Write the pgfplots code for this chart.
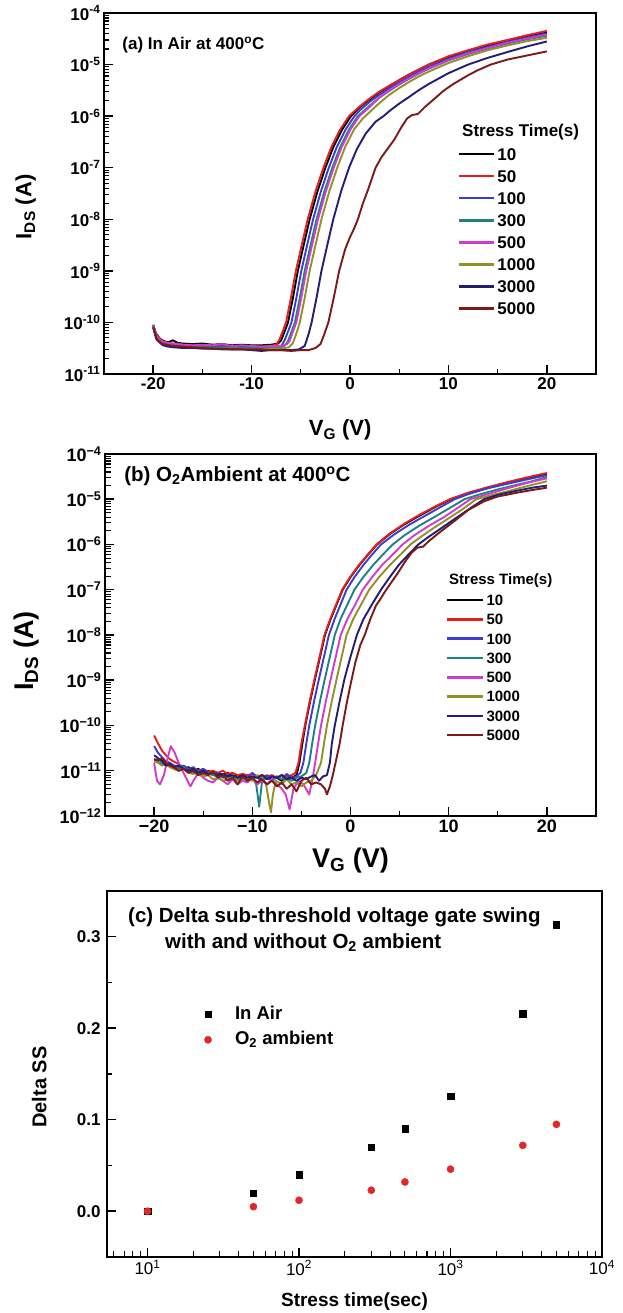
\documentclass[border=0pt]{standalone}
\usepackage{fontspec}
\setmainfont{Liberation Sans}
\usepackage{pgfplots}
\pgfplotsset{compat=1.18}
\definecolor{cred}{RGB}{230,30,30}
\definecolor{cblue}{RGB}{60,60,205}
\definecolor{cteal}{RGB}{30,130,130}
\definecolor{cmag}{RGB}{210,60,205}
\definecolor{coli}{RGB}{145,145,40}
\definecolor{cnavy}{RGB}{35,30,115}
\definecolor{cbrn}{RGB}{125,25,25}
\definecolor{mred}{RGB}{225,40,40}
\pgfplotsset{
  myaxis/.style={
    scale only axis, anchor=south west,
    tick align=inside, tick pos=left,
    axis line style={line width=2.2pt},
    major tick length=9pt, minor tick length=5.5pt,
    major tick style={line width=1.5pt, black},
    minor tick style={line width=1.1pt, black},
    tick label style={font=\bfseries\fontsize{17}{17}\selectfont},
  },
  curve/.style={line width=1.9pt, line join=round, mark=none},
}
\begin{document}
\begin{tikzpicture}
\path[use as bounding box] (0pt,0pt) rectangle (623pt,1313pt);
% ---------------- (a) ----------------
\begin{axis}[myaxis, at={(104pt,939pt)}, width=492pt, height=361pt,
  xmin=-25, xmax=25, ymode=log, log basis y=10, ymin=1e-11, ymax=1e-4,
  xtick={-20,-10,0,10,20}, minor xtick={-15,-5,5,15}, xticklabels={-20,-10,0,10,20},
  ytick={1e-11,1e-10,1e-9,1e-8,1e-7,1e-6,1e-5,1e-4},
  minor ytick={2e-11,3e-11,4e-11,5e-11,6e-11,7e-11,8e-11,9e-11,2e-10,3e-10,4e-10,5e-10,6e-10,7e-10,8e-10,9e-10,2e-9,3e-9,4e-9,5e-9,6e-9,7e-9,8e-9,9e-9,2e-8,3e-8,4e-8,5e-8,6e-8,7e-8,8e-8,9e-8,2e-7,3e-7,4e-7,5e-7,6e-7,7e-7,8e-7,9e-7,2e-6,3e-6,4e-6,5e-6,6e-6,7e-6,8e-6,9e-6,2e-5,3e-5,4e-5,5e-5,6e-5,7e-5,8e-5,9e-5},
  yticklabel={10\textsuperscript{\pgfmathparse{int(round(\tick))}\pgfmathresult}},
  xlabel={V\textsubscript{G} (V)}, ylabel={I\textsubscript{DS} (A)},
  xlabel style={at={(axis description cs:0.48,-0.155)}, anchor=center, font=\bfseries\fontsize{22}{22}\selectfont},
  ylabel style={at={(axis description cs:-0.159,0.463)}, anchor=center, font=\bfseries\fontsize{22}{22}\selectfont},
  legend style={draw=none, fill=none, at={(axis description cs:0.7195,0.629)}, anchor=north west, inner sep=0pt, outer sep=0pt, row sep=7.9pt, column sep=1pt, nodes={inner sep=1pt, text height=12.2pt, text depth=0pt, font=\bfseries\fontsize{17}{17}\selectfont}},
  legend cell align=left,
  legend image code/.code={\draw[#1, line width=2.5pt] (0pt,0pt) -- (35pt,0pt);},
]
\addplot[curve, black] coordinates {(-20,9e-11)(-19.7,6e-11)(-19.3,4.8e-11)(-19,4.4e-11)(-18.5,4.1e-11)(-18,4.5e-11)(-17.5,4e-11)(-17,3.9e-11)(-16,3.8e-11)(-15,3.9e-11)(-14,3.7e-11)(-13,3.8e-11)(-12,3.6e-11)(-11,3.7e-11)(-10,3.6e-11)(-9,3.6e-11)(-8,3.7e-11)(-7.3,3.9e-11)(-7.0,4.5e-11)(-6.6,7e-11)(-6.3,1e-10)(-5.8,3e-10)(-5.3,1e-9)(-4.7,3.2e-9)(-4.1,1e-8)(-3.3,3.5e-8)(-2.5,1e-7)(-1.7,2.5e-7)(-0.8,5.5e-7)(0.1,1e-6)(1,1.5e-6)(2,2.1e-6)(3,2.9e-6)(4,3.8e-6)(5,5e-6)(6,6.4e-6)(7,8e-6)(8,1e-5)(10,1.4e-5)(12,1.85e-5)(14,2.35e-5)(16,2.9e-5)(18,3.6e-5)(20,4.3e-5)};
\addlegendentry{10}
\addplot[curve, cred] coordinates {(-20,8.5e-11)(-19.7,5.8e-11)(-19.3,4.6e-11)(-19,4.2e-11)(-18.5,4e-11)(-18,3.9e-11)(-17.5,3.8e-11)(-17,3.7e-11)(-16,3.6e-11)(-15,3.6e-11)(-14,3.5e-11)(-13,3.5e-11)(-12,3.4e-11)(-11,3.4e-11)(-10,3.4e-11)(-9,3.4e-11)(-8,3.5e-11)(-7.5,3.7e-11)(-7.2,4.5e-11)(-6.8,7e-11)(-6.5,1e-10)(-6.0,3e-10)(-5.5,1e-9)(-4.9,3.2e-9)(-4.3,1e-8)(-3.5,3.5e-8)(-2.7,1e-7)(-1.9,2.5e-7)(-1.0,5.5e-7)(-0.1,1e-6)(1,1.55e-6)(2,2.2e-6)(3,3e-6)(4,3.9e-6)(5,5e-6)(6,6.4e-6)(7,8e-6)(8,1e-5)(10,1.45e-5)(12,1.9e-5)(14,2.45e-5)(16,3e-5)(18,3.7e-5)(20,4.5e-5)};
\addlegendentry{50}
\addplot[curve, cblue] coordinates {(-20,8.8e-11)(-19.7,5.5e-11)(-19.3,4.5e-11)(-19,4e-11)(-18.5,3.8e-11)(-18,3.7e-11)(-17.5,3.9e-11)(-17,3.6e-11)(-16,3.5e-11)(-15,3.6e-11)(-14,3.4e-11)(-13,3.5e-11)(-12,3.3e-11)(-11,3.4e-11)(-10,3.3e-11)(-9,3.3e-11)(-8,3.2e-11)(-7,3.4e-11)(-6.65,4.5e-11)(-6.25,7e-11)(-5.95,1e-10)(-5.45,3e-10)(-4.95,1e-9)(-4.35,3.2e-9)(-3.75,1e-8)(-2.95,3.5e-8)(-2.15,1e-7)(-1.35,2.5e-7)(-0.45,5.5e-7)(0.45,1e-6)(1,1.3e-6)(2,1.9e-6)(3,2.6e-6)(4,3.5e-6)(5,4.5e-6)(6,5.8e-6)(7,7.3e-6)(8,9e-6)(10,1.3e-5)(12,1.75e-5)(14,2.2e-5)(16,2.75e-5)(18,3.35e-5)(20,4e-5)};
\addlegendentry{100}
\addplot[curve, cteal] coordinates {(-20,8.5e-11)(-19.7,5.3e-11)(-19.3,4.3e-11)(-19,3.9e-11)(-18.5,3.7e-11)(-18,3.6e-11)(-17,3.5e-11)(-16,3.4e-11)(-15,3.4e-11)(-14,3.3e-11)(-13,3.3e-11)(-12,3.3e-11)(-11,3.2e-11)(-10,3.2e-11)(-9,3.2e-11)(-8,3.2e-11)(-7,3.3e-11)(-6.6,3.6e-11)(-6.3,4.3e-11)(-5.9,7e-11)(-5.6,1e-10)(-5.1,3e-10)(-4.6,1e-9)(-4.0,3.2e-9)(-3.4,1e-8)(-2.6,3.5e-8)(-1.8,1e-7)(-1.0,2.5e-7)(-0.1,5.5e-7)(0.8,1e-6)(2,1.6e-6)(3,2.3e-6)(4,3.1e-6)(5,4.1e-6)(6,5.3e-6)(7,6.7e-6)(8,8.3e-6)(10,1.2e-5)(12,1.6e-5)(14,2.05e-5)(16,2.55e-5)(18,3.1e-5)(20,3.6e-5)};
\addlegendentry{300}
\addplot[curve, cmag] coordinates {(-20,8.7e-11)(-19.7,5.6e-11)(-19.3,4.6e-11)(-19,4.2e-11)(-18.5,4e-11)(-18,3.9e-11)(-17,3.7e-11)(-16,3.6e-11)(-15,3.7e-11)(-14,3.6e-11)(-13,3.8e-11)(-12,3.5e-11)(-11,3.6e-11)(-10,3.5e-11)(-9,3.4e-11)(-8,3.5e-11)(-7,3.5e-11)(-6.4,3.8e-11)(-6.15,4.3e-11)(-5.75,7e-11)(-5.45,1e-10)(-4.95,3e-10)(-4.45,1e-9)(-3.85,3.2e-9)(-3.25,1e-8)(-2.45,3.5e-8)(-1.65,1e-7)(-0.85,2.5e-7)(0.05,5.5e-7)(0.95,1e-6)(2,1.5e-6)(3,2.3e-6)(4,3.2e-6)(5,4.2e-6)(6,5.4e-6)(7,6.8e-6)(8,8.4e-6)(10,1.22e-5)(12,1.65e-5)(14,2.1e-5)(16,2.65e-5)(18,3.2e-5)(20,3.8e-5)};
\addlegendentry{500}
\addplot[curve, coli] coordinates {(-20,8.2e-11)(-19.7,5e-11)(-19.3,4.1e-11)(-19,3.7e-11)(-18.5,3.5e-11)(-18,3.4e-11)(-17,3.3e-11)(-16,3.2e-11)(-15,3.2e-11)(-14,3.1e-11)(-13,3.1e-11)(-12,3.1e-11)(-11,3.1e-11)(-10,3e-11)(-9,3e-11)(-8,3.1e-11)(-7,3.1e-11)(-6.2,3.3e-11)(-5.8,4e-11)(-5.4,6.5e-11)(-5.1,1e-10)(-4.6,3e-10)(-4.1,1e-9)(-3.5,3.2e-9)(-2.9,1e-8)(-2.1,3.5e-8)(-1.3,1e-7)(-0.5,2.5e-7)(0.4,5.5e-7)(1.3,9e-7)(2,1.2e-6)(3,1.8e-6)(4,2.6e-6)(5,3.5e-6)(6,4.6e-6)(7,5.9e-6)(8,7.3e-6)(10,1.07e-5)(12,1.45e-5)(14,1.9e-5)(16,2.35e-5)(18,2.85e-5)(20,3.3e-5)};
\addlegendentry{1000}
\addplot[curve, cnavy] coordinates {(-20,8e-11)(-19.7,4.9e-11)(-19.3,4e-11)(-19,3.6e-11)(-18.5,3.4e-11)(-18,3.3e-11)(-17,3.2e-11)(-16,3.2e-11)(-15,3.1e-11)(-14,3.1e-11)(-13,3e-11)(-12,3e-11)(-11,3e-11)(-10,2.9e-11)(-9,2.8e-11)(-8,2.9e-11)(-7,2.9e-11)(-6,2.9e-11)(-5.2,3e-11)(-4.6,3.5e-11)(-4.2,6e-11)(-3.9,1e-10)(-3.4,3e-10)(-2.9,1e-9)(-2.3,3.2e-9)(-1.7,1e-8)(-0.9,3.5e-8)(-0.1,1e-7)(0.7,2.3e-7)(1.6,4.6e-7)(2.6,7.8e-7)(3.4,1e-6)(4,1.25e-6)(5,1.75e-6)(6,2.35e-6)(7,3.2e-6)(8,4.2e-6)(10,6.8e-6)(12,1e-5)(14,1.35e-5)(16,1.75e-5)(18,2.25e-5)(20,2.8e-5)};
\addlegendentry{3000}
\addplot[curve, cbrn] coordinates {(-20,8e-11)(-19.6,4.5e-11)(-19,3.8e-11)(-18,3.5e-11)(-17,3.4e-11)(-16,3.3e-11)(-15,3.2e-11)(-14,3.1e-11)(-13,3.1e-11)(-12,3e-11)(-11,3e-11)(-10,3e-11)(-9,3e-11)(-8,2.9e-11)(-7,2.9e-11)(-6,2.8e-11)(-5,2.9e-11)(-4.2,2.9e-11)(-3.5,3.2e-11)(-3.0,3.8e-11)(-2.6,6e-11)(-2.2,1e-10)(-1.7,2.7e-10)(-1.1,1e-9)(-0.5,2.6e-9)(0.0,4.5e-9)(0.4,6.5e-9)(0.8,1e-8)(1.3,2e-8)(1.8,3.6e-8)(2.2,6e-8)(2.6,1e-7)(3.2,1.6e-7)(3.8,2.3e-7)(4.5,3.5e-7)(5.2,6e-7)(5.8,9e-7)(6.3,1.05e-6)(6.9,1.1e-6)(7.6,1.5e-6)(8.5,2.1e-6)(9.5,3.1e-6)(10.5,4.2e-6)(12,6.2e-6)(13,7.8e-6)(14.3,1e-5)(16,1.25e-5)(18,1.5e-5)(20,1.8e-5)};
\addlegendentry{5000}
\node[anchor=west, inner sep=0pt, font=\bfseries\fontsize{17}{17}\selectfont] at (axis description cs:0.7276,0.670) {Stress Time(s)};
\node[anchor=base west, inner sep=0pt, font=\bfseries\fontsize{17}{17}\selectfont] at (axis description cs:0.037,0.8975) {(a) In Air at 400\textsuperscript{o}C};
\end{axis}
% ---------------- (b) ----------------
\begin{axis}[myaxis, at={(105pt,497pt)}, width=491pt, height=362pt,
  xmin=-25, xmax=25, ymode=log, log basis y=10, ymin=1e-12, ymax=1e-4,
  xtick={-20,-10,0,10,20}, minor xtick={-15,-5,5,15}, xticklabels={−20,−10,0,10,20},
  ytick={1e-12,1e-11,1e-10,1e-9,1e-8,1e-7,1e-6,1e-5,1e-4},
  minor ytick={2e-12,3e-12,4e-12,5e-12,6e-12,7e-12,8e-12,9e-12,2e-11,3e-11,4e-11,5e-11,6e-11,7e-11,8e-11,9e-11,2e-10,3e-10,4e-10,5e-10,6e-10,7e-10,8e-10,9e-10,2e-9,3e-9,4e-9,5e-9,6e-9,7e-9,8e-9,9e-9,2e-8,3e-8,4e-8,5e-8,6e-8,7e-8,8e-8,9e-8,2e-7,3e-7,4e-7,5e-7,6e-7,7e-7,8e-7,9e-7,2e-6,3e-6,4e-6,5e-6,6e-6,7e-6,8e-6,9e-6,2e-5,3e-5,4e-5,5e-5,6e-5,7e-5,8e-5,9e-5},
  tick label style={font=\bfseries\fontsize{18}{18}\selectfont},
  yticklabel={10\textsuperscript{−\pgfmathparse{int(round(-\tick))}\pgfmathresult}},
  xlabel={V\textsubscript{G} (V)}, ylabel={I\textsubscript{DS} (A)},
  xlabel style={at={(axis description cs:0.5,-0.122)}, anchor=center, font=\bfseries\fontsize{27}{27}\selectfont},
  ylabel style={at={(axis description cs:-0.160,0.456)}, anchor=center, font=\bfseries\fontsize{27}{27}\selectfont},
  legend style={draw=none, fill=none, at={(axis description cs:0.6945,0.614)}, anchor=north west, inner sep=0pt, outer sep=0pt, row sep=6.6pt, column sep=1pt, nodes={inner sep=1pt, text height=10.7pt, text depth=0pt, font=\bfseries\fontsize{15}{15}\selectfont}},
  legend cell align=left,
  legend image code/.code={\draw[#1, line width=2.5pt] (0pt,0pt) -- (36pt,0pt);},
]
\addplot[curve, black] coordinates {(-20,1.7e-11)(-19.5,1.8e-11)(-19,1.6e-11)(-18.5,1.5e-11)(-18,1.3e-11)(-17.5,1.2e-11)(-17,1.1e-11)(-16.5,1.2e-11)(-16,1e-11)(-15.5,1.1e-11)(-15,9e-12)(-14.5,1e-11)(-14,8.5e-12)(-13.5,9e-12)(-13,8e-12)(-12.5,9e-12)(-12,7.5e-12)(-11.5,8e-12)(-11,7e-12)(-10.5,8e-12)(-10,7e-12)(-9.5,7.5e-12)(-9,6.5e-12)(-8.5,7e-12)(-8,6.5e-12)(-7.5,7e-12)(-7,6e-12)(-6.5,7.5e-12)(-6,7e-12)(-5.5,8e-12)(-5.2,1.5e-11)(-4.9,4e-11)(-4.6,1e-10)(-4.1,3.5e-10)(-3.6,1.1e-9)(-3.1,3.3e-9)(-2.6,1e-8)(-2.0,2.3e-8)(-1.4,4.8e-8)(-0.8,1e-7)(0,1.9e-7)(0.9,3.5e-7)(1.8,6e-7)(2.7,1e-6)(4,1.7e-6)(5.5,2.8e-6)(7,4.3e-6)(8.5,6.5e-6)(10.2,1e-5)(12,1.35e-5)(14,1.8e-5)(16,2.3e-5)(18,2.9e-5)(20,3.6e-5)};
\addlegendentry{10}
\addplot[curve, cred] coordinates {(-20,6e-11)(-19.6,4e-11)(-19.2,2.8e-11)(-18.8,2.2e-11)(-18.4,1.8e-11)(-18,1.6e-11)(-17.5,1.4e-11)(-17,1.2e-11)(-16.5,1.1e-11)(-16,1.05e-11)(-15.5,1e-11)(-15,1.1e-11)(-14.5,9.5e-12)(-14,1e-11)(-13.5,9e-12)(-13,1e-11)(-12.5,8.5e-12)(-12,9e-12)(-11.5,8e-12)(-11,8.5e-12)(-10.5,8e-12)(-10,8.5e-12)(-9.5,7.5e-12)(-9,8e-12)(-8.5,7.5e-12)(-8,8e-12)(-7.5,7e-12)(-7,8e-12)(-6.5,7.5e-12)(-6,8e-12)(-5.6,9e-12)(-5.3,1.5e-11)(-5.0,4e-11)(-4.65,1e-10)(-4.15,3.5e-10)(-3.65,1.1e-9)(-3.15,3.3e-9)(-2.65,1e-8)(-2.05,2.3e-8)(-1.45,4.8e-8)(-0.85,1e-7)(-0.05,1.9e-7)(0.85,3.5e-7)(1.75,6e-7)(2.65,1e-6)(4,1.75e-6)(5.5,2.9e-6)(7,4.5e-6)(8.5,6.7e-6)(10.1,1e-5)(12,1.4e-5)(14,1.85e-5)(16,2.4e-5)(18,3.05e-5)(20,3.8e-5)};
\addlegendentry{50}
\addplot[curve, cblue] coordinates {(-20,3.5e-11)(-19.6,2.5e-11)(-19.2,2e-11)(-18.8,1.6e-11)(-18.4,1.5e-11)(-18,1.3e-11)(-17.5,1.2e-11)(-17,1.3e-11)(-16.5,1.1e-11)(-16,1.2e-11)(-15.5,9.5e-12)(-15,1.1e-11)(-14.5,9e-12)(-14,8e-12)(-13.5,9e-12)(-13,7e-12)(-12.5,8e-12)(-12,7.5e-12)(-11.5,7e-12)(-11,8e-12)(-10.5,6.5e-12)(-10,9e-12)(-9.5,7e-12)(-9,6e-12)(-8.5,8e-12)(-8,6.5e-12)(-7.5,7.5e-12)(-7,6.5e-12)(-6.5,8.5e-12)(-6,7e-12)(-5.5,7.5e-12)(-5.1,9e-12)(-4.8,1.5e-11)(-4.5,4e-11)(-4.2,1e-10)(-3.7,3.5e-10)(-3.2,1.1e-9)(-2.7,3.3e-9)(-2.2,1e-8)(-1.6,2.3e-8)(-1.0,4.8e-8)(-0.4,1e-7)(0.4,1.9e-7)(1.3,3.5e-7)(2.2,6e-7)(3.1,1e-6)(4.5,1.7e-6)(6,2.75e-6)(7.5,4.2e-6)(9,6.4e-6)(10.6,1e-5)(12,1.3e-5)(14,1.75e-5)(16,2.2e-5)(18,2.75e-5)(20,3.4e-5)};
\addlegendentry{100}
\addplot[curve, cteal] coordinates {(-20,1.8e-11)(-19.6,1.6e-11)(-19.2,1.4e-11)(-18.8,1.5e-11)(-18.4,1.3e-11)(-18,1.2e-11)(-17.5,1.1e-11)(-17,1.2e-11)(-16.5,1e-11)(-16,9e-12)(-15.5,1e-11)(-15,8.5e-12)(-14.5,9e-12)(-14,8e-12)(-13.5,7.5e-12)(-13,8e-12)(-12.5,7e-12)(-12,7.5e-12)(-11.5,6.5e-12)(-11,7e-12)(-10.5,6e-12)(-10,7e-12)(-9.6,5e-12)(-9.3,1.6e-12)(-9.0,6e-12)(-8.5,7e-12)(-8,6e-12)(-7.5,7.5e-12)(-7,6.5e-12)(-6.5,7e-12)(-6,6e-12)(-5.5,7e-12)(-5,7.5e-12)(-4.5,9e-12)(-4.2,1.5e-11)(-3.9,4e-11)(-3.6,1e-10)(-3.1,3.5e-10)(-2.6,1.1e-9)(-2.1,3.3e-9)(-1.6,1e-8)(-1.0,2.3e-8)(-0.3,4.8e-8)(0.4,1e-7)(1.3,1.9e-7)(2.3,3.5e-7)(3.3,6e-7)(4.3,1e-6)(5.5,1.6e-6)(7,2.6e-6)(8.5,4e-6)(10,6.2e-6)(11.6,1e-5)(13,1.25e-5)(15,1.65e-5)(17,2.1e-5)(18.5,2.5e-5)(20,3.1e-5)};
\addlegendentry{300}
\addplot[curve, cmag] coordinates {(-20,1.5e-11)(-19.7,6e-12)(-19.4,5e-12)(-19,8e-12)(-18.6,2e-11)(-18.3,3.5e-11)(-17.9,2.5e-11)(-17.5,1.5e-11)(-17,9e-12)(-16.6,6e-12)(-16.3,4.5e-12)(-16,6e-12)(-15.5,9e-12)(-15,7e-12)(-14.5,6e-12)(-14,5.5e-12)(-13.5,7e-12)(-13,6e-12)(-12.5,5e-12)(-12,6.5e-12)(-11.5,5e-12)(-11,6e-12)(-10.5,5.5e-12)(-10,7e-12)(-9.5,5e-12)(-9,6e-12)(-8.5,5e-12)(-8,6.5e-12)(-7.5,5e-12)(-7,4e-12)(-6.6,3e-12)(-6.2,1.4e-12)(-5.8,4e-12)(-5.3,6e-12)(-4.8,5e-12)(-4.2,3e-12)(-3.9,6e-12)(-3.6,1.5e-11)(-3.3,4e-11)(-3.0,1e-10)(-2.5,3.5e-10)(-2.0,1.1e-9)(-1.5,3.3e-9)(-1.0,1e-8)(-0.3,2.3e-8)(0.5,4.8e-8)(1.25,1e-7)(2.2,1.9e-7)(3.2,3.5e-7)(4.3,6e-7)(5.3,1e-6)(6.5,1.6e-6)(8,2.6e-6)(9.5,4e-6)(10.8,6.2e-6)(12.2,1e-5)(14,1.3e-5)(16,1.75e-5)(18,2.3e-5)(20,2.9e-5)};
\addlegendentry{500}
\addplot[curve, coli] coordinates {(-20,1.6e-11)(-19.6,1.5e-11)(-19.2,1.3e-11)(-18.8,1.4e-11)(-18.4,1.2e-11)(-18,1.1e-11)(-17.5,1e-11)(-17,1.1e-11)(-16.5,9e-12)(-16,8.5e-12)(-15.5,9e-12)(-15,7.5e-12)(-14.5,8e-12)(-14,6.5e-12)(-13.5,7e-12)(-13,6e-12)(-12.5,6.5e-12)(-12,7e-12)(-11.5,6e-12)(-11,6.5e-12)(-10.5,7e-12)(-10,6e-12)(-9.5,8e-12)(-9,7e-12)(-8.6,5e-12)(-8.3,2e-12)(-8.1,1.2e-12)(-7.9,3e-12)(-7.6,6e-12)(-7,5e-12)(-6.5,6.5e-12)(-6,5e-12)(-5.5,5.5e-12)(-5,4.5e-12)(-4.5,5.5e-12)(-4,6e-12)(-3.5,8e-12)(-3.0,1.5e-11)(-2.7,4e-11)(-2.4,1e-10)(-1.9,3.5e-10)(-1.4,1.1e-9)(-0.9,3.3e-9)(-0.4,1e-8)(0.3,2.3e-8)(1.1,4.8e-8)(1.9,1e-7)(2.9,1.9e-7)(4,3.5e-7)(5.1,6e-7)(6.1,1e-6)(7.3,1.55e-6)(8.7,2.5e-6)(10,3.8e-6)(11.4,6e-6)(12.8,1e-5)(14.5,1.25e-5)(16,1.5e-5)(18,1.95e-5)(20,2.5e-5)};
\addlegendentry{1000}
\addplot[curve, cnavy] coordinates {(-20,2.2e-11)(-19.6,1.9e-11)(-19.2,1.6e-11)(-18.8,1.3e-11)(-18.4,1.4e-11)(-18,1.2e-11)(-17.5,1.3e-11)(-17,1.1e-11)(-16.5,1e-11)(-16,1.1e-11)(-15.5,9e-12)(-15,1e-11)(-14.5,8.5e-12)(-14,9e-12)(-13.5,8e-12)(-13,8.5e-12)(-12.5,7.5e-12)(-12,8e-12)(-11.5,7e-12)(-11,8e-12)(-10.5,7e-12)(-10,7.5e-12)(-9.5,7e-12)(-9,8e-12)(-8.5,6.5e-12)(-8,7.5e-12)(-7.5,7e-12)(-7,8e-12)(-6.5,6.5e-12)(-6,7e-12)(-5.5,6e-12)(-5,7e-12)(-4.5,6.5e-12)(-4,7.5e-12)(-3.6,8e-12)(-3.2,6e-12)(-2.8,7.5e-12)(-2.4,8e-12)(-2.1,1.5e-11)(-1.9,4e-11)(-1.6,1e-10)(-1.1,3.5e-10)(-0.6,1.1e-9)(0,3.3e-9)(0.65,1e-8)(1.3,2.2e-8)(2.2,4.8e-8)(3.1,1e-7)(4,1.9e-7)(4.9,3.5e-7)(5.9,6e-7)(6.9,1e-6)(8,1.5e-6)(9.5,2.5e-6)(11,4.2e-6)(12.5,7e-6)(13.6,1e-5)(15,1.25e-5)(17,1.55e-5)(18.5,1.8e-5)(20,2e-5)};
\addlegendentry{3000}
\addplot[curve, cbrn] coordinates {(-20,1.8e-11)(-19.6,1.7e-11)(-19.2,1.9e-11)(-18.8,1.5e-11)(-18.4,1.3e-11)(-18,1.2e-11)(-17.5,1e-11)(-17,1.1e-11)(-16.5,9e-12)(-16,1e-11)(-15.5,8e-12)(-15,9e-12)(-14.5,8e-12)(-14,9.5e-12)(-13.5,7e-12)(-13,8e-12)(-12.5,6e-12)(-12,7e-12)(-11.5,5e-12)(-11,7.5e-12)(-10.5,6e-12)(-10,7e-12)(-9.5,5.5e-12)(-9,6.5e-12)(-8.5,5e-12)(-8,6e-12)(-7.5,4.5e-12)(-7,5.5e-12)(-6.5,4e-12)(-6,5e-12)(-5.5,3.5e-12)(-5,6e-12)(-4.5,7e-12)(-4,5e-12)(-3.5,5.5e-12)(-3,5e-12)(-2.6,4e-12)(-2.4,3e-12)(-2.1,4.5e-12)(-1.8,8e-12)(-1.4,2e-11)(-1.1,4e-11)(-0.8,1e-10)(-0.4,3e-10)(0,8e-10)(0.5,2.5e-9)(1.0,6e-9)(1.45,1e-8)(2.0,2.2e-8)(2.6,4.5e-8)(3.0,6e-8)(3.5,9e-8)(4.0,1.3e-7)(4.8,2.3e-7)(5.5,4e-7)(6.2,6.5e-7)(6.8,8.5e-7)(7.4,9e-7)(8,1.2e-6)(9,1.8e-6)(10.5,3.2e-6)(12,5.8e-6)(13.6,9e-6)(15,1.15e-5)(17,1.4e-5)(18.5,1.6e-5)(20,1.8e-5)};
\addlegendentry{5000}
\node[anchor=west, inner sep=0pt, font=\bfseries\fontsize{15}{15}\selectfont] at (axis description cs:0.7006,0.649) {Stress Time(s)};
\node[anchor=base west, inner sep=0pt, font=\bfseries\fontsize{20.5}{20.5}\selectfont] at (axis description cs:0.039,0.9235) {(b) O\textsubscript{2}Ambient at 400\textsuperscript{o}C};
\end{axis}
% ---------------- (c) ----------------
\begin{axis}[myaxis, at={(107pt,56pt)}, width=495pt, height=366pt,
  xmode=log, log basis x=10, xmin=5.4, xmax=1e4, ymin=-0.05, ymax=0.35,
  ytick={0,0.1,0.2,0.3}, yticklabels={0.0,0.1,0.2,0.3}, minor ytick={0.05,0.15,0.25},
  xtick={10,100,1000,10000},
  minor xtick={6,7,8,9,20,30,40,50,60,70,80,90,200,300,400,500,600,700,800,900,2000,3000,4000,5000,6000,7000,8000,9000},
  xticklabel={10\textsuperscript{\pgfmathparse{int(round(\tick))}\pgfmathresult}},
  xticklabel style={font=\fontsize{17}{17}\selectfont},
  yticklabel style={xshift=-3pt},
  xlabel={Stress time(sec)}, ylabel={Delta SS},
  xlabel style={at={(axis description cs:0.50,-0.123)}, anchor=center, font=\bfseries\fontsize{19}{19}\selectfont},
  ylabel style={at={(axis description cs:-0.137,0.464)}, anchor=center, font=\bfseries\fontsize{20}{20}\selectfont},
  legend style={draw=none, fill=none, at={(axis description cs:0.192,0.687)}, anchor=north west, inner sep=0pt, outer sep=0pt, row sep=8pt, column sep=1pt, nodes={inner sep=1pt, text height=12.5pt, text depth=3pt, font=\bfseries\fontsize{18.5}{18.5}\selectfont}},
  legend cell align=left,
  legend image code/.code={\path[draw=none, fill=none] (0pt,-3pt) rectangle (31pt,3pt); \draw[#1] plot coordinates {(6pt,0pt)};},
]
\addplot[only marks, mark=square*, mark size=3.2pt, black, mark options={line width=0.4pt}] coordinates {(10,0)(50,0.020)(100,0.040)(300,0.070)(500,0.090)(1000,0.126)(3000,0.216)(5000,0.313)};
\addlegendentry{In Air}
\addplot[only marks, mark=*, mark size=3.6pt, mred, mark options={line width=0.4pt, draw=mred, fill=mred}] coordinates {(10,0)(50,0.005)(100,0.012)(300,0.023)(500,0.032)(1000,0.046)(3000,0.072)(5000,0.095)};
\addlegendentry{O\textsubscript{2} ambient}
\node[anchor=base west, inner sep=0pt, font=\bfseries\fontsize{20.5}{20.5}\selectfont] at (axis description cs:0.0424,0.915) {(c) Delta sub-threshold voltage gate swing};
\node[anchor=base west, inner sep=0pt, font=\bfseries\fontsize{20.5}{20.5}\selectfont] at (axis description cs:0.117,0.844) {with and without O\textsubscript{2} ambient};
\end{axis}
\end{tikzpicture}
\end{document}
